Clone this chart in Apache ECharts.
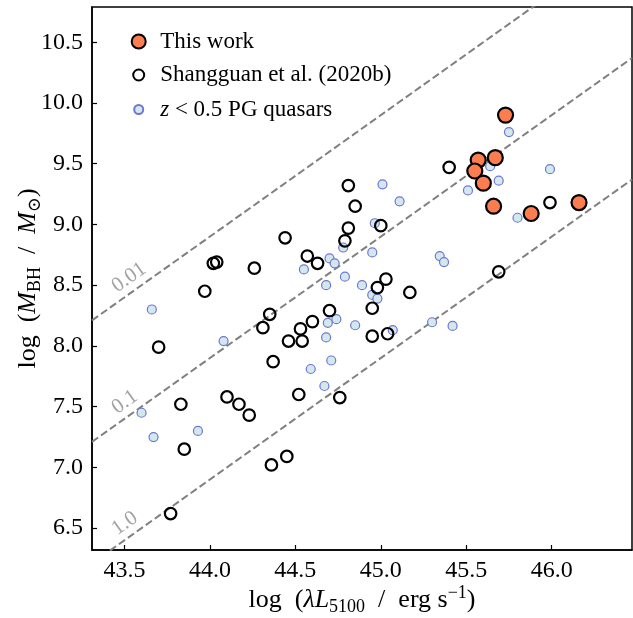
<!DOCTYPE html>
<html>
<head>
<meta charset="utf-8">
<script src="https://cdn.jsdelivr.net/npm/echarts@6/dist/echarts.min.js"></script>
<style>
html,body{margin:0;padding:0;background:#fff;}
#chart{width:633px;height:618px;}
</style>
</head>
<body>
<div id="chart"></div>
<script>
// ---- data ----
const thisWorkX = [45.73, 45.67, 45.57, 45.55, 45.60, 45.66, 45.88, 46.16];
const thisWorkY = [9.90, 9.55, 9.53, 9.44, 9.34, 9.15, 9.09, 9.18];

const shangguanX = [43.77, 43.70, 43.83, 43.85, 43.97, 44.02, 44.04, 44.10, 44.17, 44.23,
                    44.26, 44.31, 44.35, 44.37, 44.36, 44.44, 44.45, 44.46, 44.52, 44.53,
                    44.54, 44.57, 44.60, 44.63, 44.70, 44.76, 44.79, 44.81, 44.81, 44.85,
                    44.95, 44.95, 44.98, 45.00, 45.03, 45.04, 45.17, 45.40, 45.69, 45.99];
const shangguanY = [6.62, 7.99, 7.52, 7.15, 8.45, 8.68, 8.69, 7.58, 7.52, 7.43,
                    8.64, 8.15, 8.26, 7.87, 7.02, 8.89, 7.09, 8.04, 7.60, 8.14,
                    8.04, 8.74, 8.20, 8.68, 8.29, 7.575, 8.865, 9.32, 8.97, 9.15,
                    8.31, 8.08, 8.48, 8.99, 8.55, 8.10, 8.44, 9.47, 8.61, 9.18];

const pgX = [43.60, 43.66, 43.67, 43.93, 44.08, 44.55, 44.59, 44.67, 44.68, 44.68,
             44.69, 44.70, 44.71, 44.73, 44.74, 44.78, 44.79, 44.85, 44.89, 44.95,
             44.95, 44.965, 44.98, 45.01, 45.07, 45.11, 45.30, 45.345, 45.37, 45.42,
             45.51, 45.535, 45.64, 45.69, 45.75, 45.80, 45.99];
const pgY = [7.45, 8.30, 7.25, 7.30, 8.04, 8.63, 7.81, 7.67, 8.50, 8.07,
             8.19, 8.72, 7.88, 8.68, 8.22, 8.81, 8.57, 8.17, 8.50, 8.42,
             8.77, 9.01, 8.39, 9.33, 8.13, 9.19, 8.195, 8.74, 8.69, 8.165,
             9.28, 9.435, 9.48, 9.36, 9.76, 9.055, 9.455];

// Eddington ratio reference lines: logM = logL + logBC - logLEddConst - log(lambda)
const eddRatios = [0.01, 0.1, 1.0];
const eddLabels = ['0.01', '0.1', '1.0'];
const logBC = 1.0;
const logLEddConst = 38.1;

const xTicks = [43.5, 44.0, 44.5, 45.0, 45.5, 46.0];
const yTicks = [6.5, 7.0, 7.5, 8.0, 8.5, 9.0, 9.5, 10.0, 10.5];

// ---- chart ----
const xMin = 43.31, xMax = 46.47, yMin = 6.32, yMax = 10.79;
const FONT = '"Liberation Serif", "DejaVu Serif", serif';

function eddLine(logL, lam) { return logL + logBC - logLEddConst - Math.log10(lam); }
function zip(a, b) { return a.map((v, i) => [v, b[i]]); }

const lineSeries = eddRatios.map(lam => ({
  type: 'line',
  name: 'edd' + lam,
  data: [[xMin, eddLine(xMin, lam)], [xMax, eddLine(xMax, lam)]],
  symbol: 'none',
  silent: true,
  clip: true,
  z: 1,
  lineStyle: { color: '#808080', width: 2, type: [7.5, 3.5] }
}));

const labelX = 43.475;
const labelSeries = {
  type: 'scatter',
  name: 'eddLabels',
  silent: true,
  symbolSize: 0,
  z: 2,
  data: eddRatios.map((lam, i) => [labelX, eddLine(labelX, lam) + 0.03, eddLabels[i]]),
  label: {
    show: true,
    position: 'inside',
    align: 'left',
    verticalAlign: 'bottom',
    rotate: 35.4,
    formatter: p => p.data[2],
    fontFamily: FONT,
    fontSize: 21,
    color: '#8c8c8c'
  }
};

const richBase = {
  n: { fontFamily: FONT, fontSize: 26, lineHeight: 32, color: '#000' },
  i: { fontFamily: FONT, fontSize: 26, lineHeight: 32, fontStyle: 'italic', color: '#000' },
  sub: { fontFamily: FONT, fontSize: 18, lineHeight: 18, verticalAlign: 'bottom', color: '#000' },
  sup: { fontFamily: FONT, fontSize: 18, lineHeight: 18, verticalAlign: 'top', color: '#000' }
};

function tickFmt(v) {
  return Math.abs(v * 2 - Math.round(v * 2)) < 1e-6 ? v.toFixed(1) : '';
}

const axisCommon = {
  type: 'value',
  splitLine: { show: false },
  axisLine: { show: true, onZero: false, lineStyle: { color: '#000', width: 1.5 } },
  axisTick: { show: true, inside: true, length: 5, lineStyle: { color: '#000', width: 1.2 } },
  axisLabel: { fontFamily: FONT, fontSize: 24, color: '#000', margin: 9, formatter: tickFmt,
               showMinLabel: false, showMaxLabel: false },
  minInterval: 0.5,
  maxInterval: 0.5,
  nameMoveOverlap: false
};

function legendFor(name, top, size, pad, fmt) {
  return {
    data: [name],
    left: 137.7 - size / 2,
    top: top,
    padding: 0,
    orient: 'vertical',
    itemWidth: size,
    itemHeight: size,
    selectedMode: false,
    formatter: fmt || undefined,
    textStyle: {
      fontFamily: FONT, fontSize: 23, color: '#000',
      padding: [0, 0, 0, pad],
      rich: {
        n: { fontFamily: FONT, fontSize: 23, color: '#000' },
        i: { fontFamily: FONT, fontSize: 23, fontStyle: 'italic', color: '#000' }
      }
    }
  };
}

const option = {
  animation: false,
  backgroundColor: '#fff',
  grid: { left: 92, right: 1, top: 7, bottom: 68, show: true, borderColor: '#000', borderWidth: 1.5,
          backgroundColor: 'transparent', outerBoundsMode: 'none', containLabel: false },
  legend: [
    legendFor('This work', 30, 14, 9.5),
    legendFor('Shangguan et al. (2020b)', 63.5, 11, 11),
    legendFor('z < 0.5 PG quasars', 98, 9, 12, () => '{i|z}{n| < 0.5 PG quasars}')
  ],
  xAxis: Object.assign({}, axisCommon, {
    min: xMin, max: xMax, splitNumber: 6,
    name: '{n|log  (}{i|λL}{sub|5100}{n|  /  erg s}{sup|−1}{n|)}',
    nameLocation: 'middle',
    nameGap: 34,
    nameTextStyle: { fontFamily: FONT, fontSize: 26, color: '#000', rich: richBase }
  }),
  yAxis: Object.assign({}, axisCommon, {
    min: yMin, max: yMax, splitNumber: 9,
    name: '{n|log  (}{i|M}{sub|BH}{n|  /  }{i|M}{sub|⊙}{n|)}',
    nameLocation: 'middle',
    nameGap: 48,
    nameTextStyle: { fontFamily: FONT, fontSize: 26, color: '#000', rich: richBase }
  }),
  series: [
    ...lineSeries,
    labelSeries,
    {
      type: 'scatter', name: 'z < 0.5 PG quasars', data: zip(pgX, pgY), z: 3,
      symbol: 'circle', symbolSize: 9,
      itemStyle: { color: '#d2e8ef', borderColor: '#7176cc', borderWidth: 1.2, opacity: 1 }
    },
    {
      type: 'scatter', name: 'Shangguan et al. (2020b)', data: zip(shangguanX, shangguanY), z: 4,
      symbol: 'circle', symbolSize: 11.5,
      itemStyle: { color: 'rgba(255,255,255,0)', borderColor: '#000', borderWidth: 2.2, opacity: 1 }
    },
    {
      type: 'scatter', name: 'This work', data: zip(thisWorkX, thisWorkY), z: 5,
      symbol: 'circle', symbolSize: 15,
      itemStyle: { color: '#fb7d50', borderColor: '#000', borderWidth: 2.2, opacity: 1 }
    }
  ]
};

const chart = echarts.init(document.getElementById('chart'), null, { renderer: 'canvas' });
chart.setOption(option);
</script>
</body>
</html>
